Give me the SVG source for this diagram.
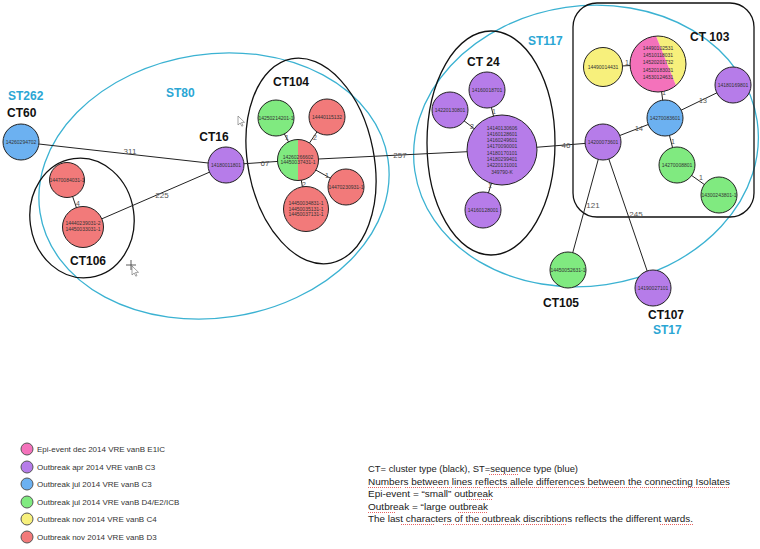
<svg xmlns="http://www.w3.org/2000/svg" width="760" height="549" viewBox="0 0 760 549">
<style>
.bg{fill:#ffffff}
.n{stroke:#222;stroke-width:1}
.hs{stroke:#222;stroke-width:1;fill:none}
.pu{fill:#b67ce9}
.bl{fill:#6cb1f1}
.gr{fill:#80ea80}
.rd{fill:#f27a7a}
.ye{fill:#f7f07c}
.pk{fill:#f472bb}
.nt{font-family:"Liberation Sans",Arial,sans-serif;font-size:5px;fill:#333;text-anchor:middle}
.el{font-family:"Liberation Sans",Arial,sans-serif;font-size:8px;fill:#555;text-anchor:middle}
.es{font-family:"Liberation Sans",Arial,sans-serif;font-size:7px;fill:#555;text-anchor:middle}
.ct{font-family:"Liberation Sans",Arial,sans-serif;font-size:12px;font-weight:bold;fill:#111}
.st{font-family:"Liberation Sans",Arial,sans-serif;font-size:12px;font-weight:bold;fill:#2ba6d4}
.ce{fill:none;stroke:#111;stroke-width:1.3}
.se{fill:none;stroke:#3bb2d2;stroke-width:1.3}
.cn line{stroke:#222;stroke-width:1}
.lg{font-family:"Liberation Sans",Arial,sans-serif;font-size:8px;fill:#333}
.lc{stroke:#555;stroke-width:1}
.nb{font-family:"Liberation Sans",Arial,sans-serif;font-size:9.5px;fill:#222}
.sq{stroke:#e03a3a;stroke-width:0.8;stroke-dasharray:1 1;fill:none}
.cur{fill:#fff;stroke:#666;stroke-width:0.6}
</style>
<rect class="bg" x="0" y="0" width="760" height="549"/>

<!-- group outlines -->
<g id="outlines">
  <ellipse class="se" cx="214" cy="186" rx="176" ry="132" transform="rotate(-8.7 214 186)"/>
  <ellipse class="se" cx="586" cy="146" rx="173" ry="140" transform="rotate(-8.3 586 146)"/>
  <ellipse class="ce" cx="82" cy="218" rx="52" ry="60" transform="rotate(-8 82 218)"/>
  <ellipse class="ce" cx="311" cy="161" rx="63" ry="104" transform="rotate(-11 311 161)"/>
  <ellipse class="ce" cx="491" cy="143" rx="64" ry="112"/>
  <rect class="ce" x="573" y="3" width="181" height="214" rx="24"/>
</g>

<!-- connectors -->
<g id="connectors" class="cn">
  <line x1="21" y1="142" x2="226" y2="165"/>
  <line x1="83" y1="227" x2="226" y2="165"/>
  <line x1="67" y1="180" x2="83" y2="227"/>
  <line x1="226" y1="165" x2="298" y2="160"/>
  <line x1="298" y1="160" x2="276" y2="118"/>
  <line x1="298" y1="160" x2="327" y2="117"/>
  <line x1="298" y1="160" x2="346" y2="187"/>
  <line x1="298" y1="160" x2="306" y2="209"/>
  <line x1="298" y1="160" x2="502" y2="150"/>
  <line x1="502" y1="150" x2="487" y2="90"/>
  <line x1="502" y1="150" x2="450" y2="110"/>
  <line x1="502" y1="150" x2="483" y2="210"/>
  <line x1="502" y1="150" x2="603" y2="142"/>
  <line x1="603" y1="67" x2="658" y2="64"/>
  <line x1="658" y1="64" x2="665" y2="118"/>
  <line x1="665" y1="118" x2="733" y2="85"/>
  <line x1="603" y1="142" x2="665" y2="118"/>
  <line x1="665" y1="118" x2="677" y2="165"/>
  <line x1="677" y1="165" x2="719" y2="195"/>
  <line x1="603" y1="142" x2="568" y2="270"/>
  <line x1="603" y1="142" x2="653" y2="288"/>
</g>

<!-- connector labels -->
<g id="connector-labels">
  <text class="el" x="130" y="154">311</text>
  <text class="el" x="162" y="198">225</text>
  <text class="es" x="78" y="206">4</text>
  <text class="el" x="265" y="166">67</text>
  <text class="es" x="287" y="140">1</text>
  <text class="es" x="315" y="140">2</text>
  <text class="es" x="327" y="178">1</text>
  <text class="es" x="304" y="187">2</text>
  <text class="el" x="400" y="158">257</text>
  <text class="es" x="494" y="114">1</text>
  <text class="es" x="472" y="129">2</text>
  <text class="es" x="490" y="188">1</text>
  <text class="el" x="566" y="148">46</text>
  <text class="es" x="627" y="65">1</text>
  <text class="es" x="664" y="95">1</text>
  <text class="es" x="703" y="103">13</text>
  <text class="es" x="639" y="131">14</text>
  <text class="es" x="673" y="144">1</text>
  <text class="es" x="701" y="180">1</text>
  <text class="el" x="593" y="208">121</text>
  <text class="el" x="636" y="217">245</text>
</g>

<!-- nodes -->
<g id="n14260294702"><circle class="n bl" cx="21" cy="142" r="18"/><text class="nt" x="21" y="143.8">14260294702</text></g>
<g id="n14180011801"><circle class="n pu" cx="226" cy="165" r="18"/><text class="nt" x="226" y="166.8">14180011801</text></g>
<g id="n14470084031"><circle class="n rd" cx="67" cy="180" r="17.5"/><text class="nt" x="67" y="181.8">14470084031-1</text></g>
<g id="n14440239031"><circle class="n rd" cx="83" cy="227" r="20.5"/><text class="nt" x="83" y="225">14440239031-2</text><text class="nt" x="83" y="231">14450033031-1</text></g>
<g id="n14250214201"><circle class="n gr" cx="276" cy="118" r="18"/><text class="nt" x="276" y="119.8">14250214201-1</text></g>
<g id="n14440115132"><circle class="n rd" cx="327" cy="117" r="18"/><text class="nt" x="327" y="118.8">14440115132</text></g>
<g id="n14260266602">
  <path class="gr" d="M298,139.5 A20.5,20.5 0 0,0 298,180.5 Z"/>
  <path class="rd" d="M298,139.5 A20.5,20.5 0 0,1 298,180.5 Z"/>
  <circle class="hs" cx="298" cy="160" r="20.5"/>
  <text class="nt" x="298" y="158.5">14260266602</text><text class="nt" x="298" y="164">14450037431-1</text>
</g>
<g id="n14470230931"><circle class="n rd" cx="346" cy="187" r="18"/><text class="nt" x="346" y="188.8">14470230931-1</text></g>
<g id="n14450034831"><circle class="n rd" cx="306" cy="209" r="22.5"/><text class="nt" x="306" y="205">14450034831-1</text><text class="nt" x="306" y="210.5">14450035131-1</text><text class="nt" x="306" y="216">14450037131-1</text></g>

<g id="n14140130606"><circle class="n pu" cx="502" cy="150" r="35"/>
  <text class="nt" x="502" y="129.5">14140130606</text>
  <text class="nt" x="502" y="135.8">14160128601</text>
  <text class="nt" x="502" y="142.1">14160249601</text>
  <text class="nt" x="502" y="148.4">14170090001</text>
  <text class="nt" x="502" y="154.7">14180170101</text>
  <text class="nt" x="502" y="161">14180299401</text>
  <text class="nt" x="502" y="167.3">14220131001</text>
  <text class="nt" x="502" y="173.6">349790-K</text>
</g>
<g id="n14160018701"><circle class="n pu" cx="487" cy="90" r="18"/><text class="nt" x="487" y="91.8">14160018701</text></g>
<g id="n14220130801"><circle class="n pu" cx="450" cy="110" r="18"/><text class="nt" x="450" y="111.8">14220130801</text></g>
<g id="n14160128001"><circle class="n pu" cx="483" cy="210" r="18"/><text class="nt" x="483" y="211.8">14160128001</text></g>

<g id="n14490014431"><circle class="n ye" cx="603" cy="67" r="19.5"/><text class="nt" x="603" y="68.8">14490014431</text></g>
<g id="n14490102531">
  <path class="ye" d="M656,36.1 A28,28 0 0,1 676,85.5 Z"/>
  <path class="pk" d="M676,85.5 A28,28 0 1,1 656,36.1 Z"/>
  <circle class="hs" cx="658" cy="64" r="28"/>
  <text class="nt" x="658" y="50">14490102531</text>
  <text class="nt" x="658" y="57.2">14510118031</text>
  <text class="nt" x="658" y="64.4">14520201732</text>
  <text class="nt" x="658" y="71.6">14520183031</text>
  <text class="nt" x="658" y="78.8">14530124631</text>
</g>
<g id="n14180169801"><circle class="n pu" cx="733" cy="85" r="18"/><text class="nt" x="733" y="86.8">14180169801</text></g>
<g id="n14270083601"><circle class="n bl" cx="665" cy="118" r="18"/><text class="nt" x="665" y="119.8">14270083601</text></g>
<g id="n14200073601"><circle class="n pu" cx="603" cy="142" r="18"/><text class="nt" x="603" y="143.8">14200073601</text></g>
<g id="n14270008801"><circle class="n gr" cx="677" cy="165" r="18"/><text class="nt" x="677" y="166.8">14270008801</text></g>
<g id="n14300243801"><circle class="n gr" cx="719" cy="195" r="18"/><text class="nt" x="719" y="196.8">14300243801-1</text></g>
<g id="n14450052631"><circle class="n gr" cx="568" cy="270" r="18"/><text class="nt" x="568" y="271.8">14450052631-1</text></g>
<g id="n14190027101"><circle class="n pu" cx="653" cy="288" r="18"/><text class="nt" x="653" y="289.8">14190027101</text></g>

<!-- group labels -->
<g id="labels">
  <text class="st" x="8" y="100">ST262</text>
  <text class="ct" x="7" y="116.5">CT60</text>
  <text class="st" x="166" y="97">ST80</text>
  <text class="ct" x="214" y="141" text-anchor="middle">CT16</text>
  <text class="ct" x="273" y="86">CT104</text>
  <text class="ct" x="70" y="265">CT106</text>
  <text class="ct" x="467" y="66">CT 24</text>
  <text class="st" x="528" y="45">ST117</text>
  <text class="ct" x="690" y="41">CT 103</text>
  <text class="ct" x="543" y="307">CT105</text>
  <text class="ct" x="648" y="319">CT107</text>
  <text class="st" x="653" y="334">ST17</text>
</g>

<!-- cursors -->
<g id="cursors">
  <path class="cur" d="M238,116 L238,125 L240.2,123 L241.8,126.2 L243,125.6 L241.5,122.5 L244.5,122.3 Z"/>
  <path d="M126,265 H136 M131,260 V270" stroke="#333" stroke-width="0.8"/>
  <path class="cur" d="M132,266 L132,275 L134.2,273 L135.8,276.2 L137,275.6 L135.5,272.5 L138.5,272.3 Z"/>
</g>

<!-- legend -->
<g id="legend">
  <circle class="lc pk" cx="27" cy="449" r="6"/><text class="lg" x="37" y="452">Epi-event dec 2014 VRE vanB E1IC</text>
  <circle class="lc pu" cx="27" cy="467" r="6"/><text class="lg" x="37" y="470">Outbreak apr 2014 VRE vanB C3</text>
  <circle class="lc bl" cx="27" cy="484" r="6"/><text class="lg" x="37" y="487">Outbreak jul 2014 VRE vanB C3</text>
  <circle class="lc gr" cx="27" cy="502" r="6"/><text class="lg" x="37" y="505">Outbreak jul 2014 VRE vanB D4/E2/ICB</text>
  <circle class="lc ye" cx="27" cy="519" r="6"/><text class="lg" x="37" y="522">Outbreak nov 2014 VRE vanB C4</text>
  <circle class="lc rd" cx="27" cy="537" r="6"/><text class="lg" x="37" y="540">Outbreak nov 2014 VRE vanB D3</text>
</g>

<!-- notes -->
<g id="notes">
  <text class="nb" x="368" y="472" textLength="210" lengthAdjust="spacingAndGlyphs">CT= cluster type (black), ST=sequence type (blue)</text>
  <text class="nb" x="368" y="485" textLength="362" lengthAdjust="spacingAndGlyphs">Numbers between lines reflects allele differences between the connecting Isolates</text>
  <text class="nb" x="368" y="497" textLength="125" lengthAdjust="spacingAndGlyphs">Epi-event = “small” outbreak</text>
  <text class="nb" x="368" y="510" textLength="120" lengthAdjust="spacingAndGlyphs">Outbreak = “large outbreak</text>
  <text class="nb" x="368" y="522" textLength="325" lengthAdjust="spacingAndGlyphs">The last characters of the outbreak discribtions reflects the different wards.</text>
  <path class="sq" d="M489,474.5 H518 M368,487.5 H402 M405,487.5 H434 M437,487.5 H452 M455,487.5 H481 M484,487.5 H501 M504,487.5 H543 M546,487.5 H575 M578,487.5 H589 M592,487.5 H637 M640,487.5 H730 M467,499.5 H493 M368,512.5 H396 M458,512.5 H488 M401,524.5 H434 M443,524.5 H454 M456,524.5 H483 M485,524.5 H524 M526,524.5 H553 M555,524.5 H566 M660,524.5 H693"/>
</g>
</svg>
